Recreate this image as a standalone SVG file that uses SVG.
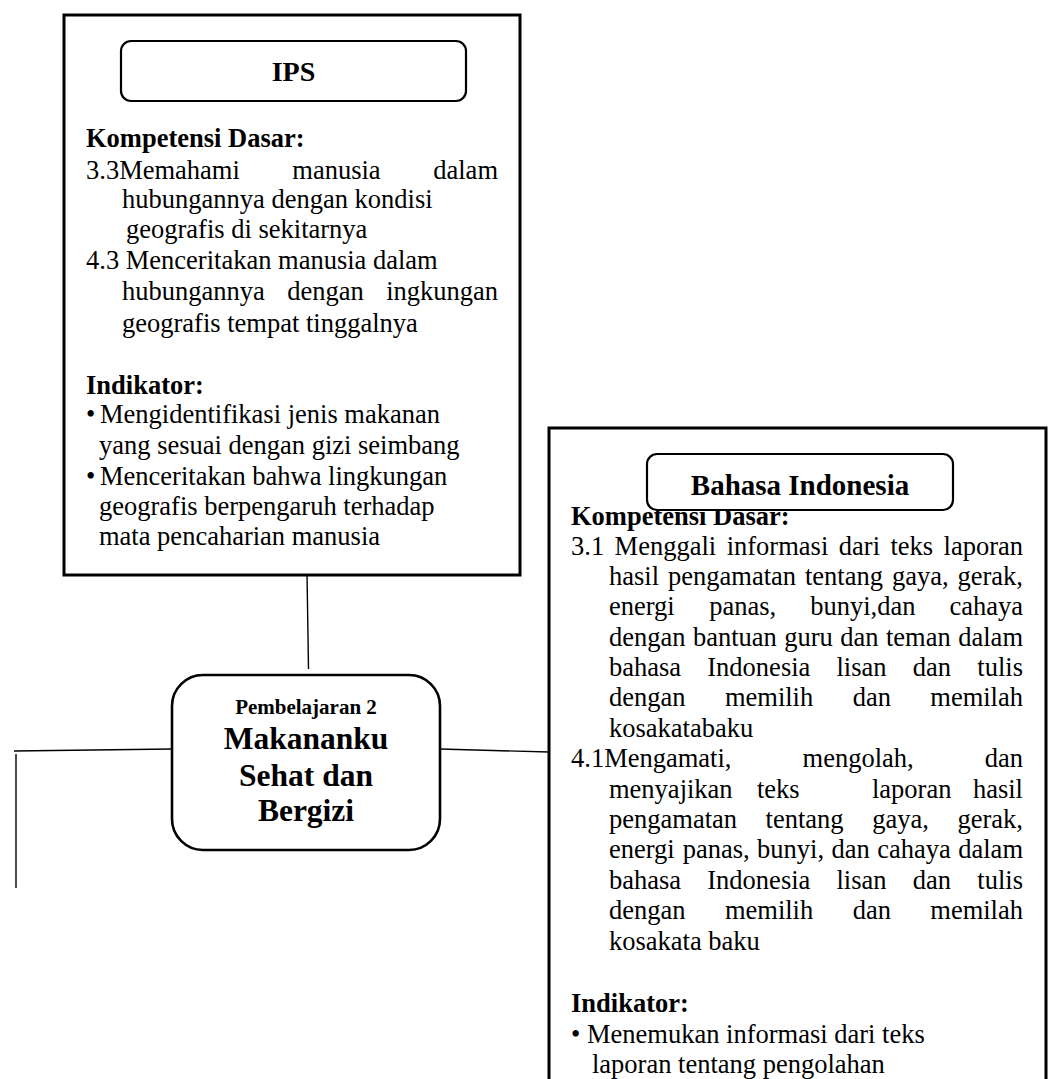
<svg xmlns="http://www.w3.org/2000/svg" width="1053" height="1079" viewBox="0 0 1053 1079">
  <style>
    .t { font-family: "Liberation Serif", "Times New Roman", serif; font-size: 26.5px; fill: #000; }
    .b { font-weight: bold; }
    .c { text-anchor: middle; }
    .frame { fill: #fff; stroke: #000; stroke-width: 3; }
    .tag { fill: #fff; stroke: #000; stroke-width: 2.2; }
    .link { fill: none; stroke: #000; stroke-width: 1.4; }
  </style>
  <rect width="1053" height="1079" fill="#fff"/>

  <!-- connectors between the central topic and the subject boxes -->
  <g id="connectors" class="link">
    <line x1="307" y1="573" x2="308.5" y2="669"/>
    <line x1="440" y1="749" x2="549" y2="752"/>
    <line x1="172" y1="749" x2="14" y2="751"/>
    <line x1="16" y1="754" x2="16" y2="888"/>
  </g>

  <!-- IPS subject box -->
  <g id="ips">
    <rect class="frame" x="64" y="15" width="456" height="560"/>
    <rect class="tag" x="121" y="41" width="345" height="60" rx="10"/>
    <text class="t b c" x="293.5" y="81" style="font-size:28px">IPS</text>
    <text class="t b" x="86" y="147">Kompetensi Dasar:</text>
    <text class="t" y="179"><tspan x="86">3.3Memahami</tspan><tspan x="292.3">manusia</tspan><tspan x="498" text-anchor="end">dalam</tspan></text>
    <text class="t" x="122" y="208">hubungannya dengan kondisi</text>
    <text class="t" x="126" y="238">geografis di sekitarnya</text>
    <text class="t" x="86" y="269">4.3 Menceritakan manusia dalam</text>
    <text class="t" y="300"><tspan x="122">hubungannya</tspan><tspan x="287.2">dengan</tspan><tspan x="498" text-anchor="end">ingkungan</tspan></text>
    <text class="t" x="122" y="332">geografis tempat tinggalnya</text>
    <text class="t b" x="86" y="394">Indikator:</text>
    <text class="t" y="423"><tspan x="86">•</tspan><tspan x="100">Mengidentifikasi jenis makanan</tspan></text>
    <text class="t" x="99" y="454">yang sesuai dengan gizi seimbang</text>
    <text class="t" y="485"><tspan x="86">•</tspan><tspan x="100">Menceritakan bahwa lingkungan</tspan></text>
    <text class="t" x="99" y="515">geografis berpengaruh terhadap</text>
    <text class="t" x="99" y="545">mata pencaharian manusia</text>
  </g>

  <!-- central topic -->
  <g id="topic">
    <rect class="tag" x="172" y="675" width="268" height="175" rx="31" style="stroke-width:2.6"/>
    <text class="t b c" x="306" y="714" style="font-size:21px">Pembelajaran 2</text>
    <text class="t b c" x="306" y="749" style="font-size:31.5px">Makananku</text>
    <text class="t b c" x="306" y="786" style="font-size:31.5px">Sehat dan</text>
    <text class="t b c" x="306" y="821" style="font-size:31.5px">Bergizi</text>
  </g>

  <!-- Bahasa Indonesia subject box -->
  <g id="bahasa-indonesia">
    <rect class="frame" x="549" y="428" width="497" height="700"/>
    <text class="t b" x="571" y="525">Kompetensi Dasar:</text>
    <rect class="tag" x="647" y="454" width="306" height="56" rx="10"/>
    <text class="t b c" x="800" y="495" style="font-size:29px">Bahasa Indonesia</text>
    <text class="t" y="555"><tspan x="571">3.1</tspan><tspan x="614.6">Menggali</tspan><tspan x="726.7">informasi</tspan><tspan x="838.8">dari</tspan><tspan x="890.5">teks</tspan><tspan x="1023" text-anchor="end">laporan</tspan></text>
    <text class="t" y="585"><tspan x="609">hasil</tspan><tspan x="668">pengamatan</tspan><tspan x="805">tentang</tspan><tspan x="891.9">gaya,</tspan><tspan x="1023" text-anchor="end">gerak,</tspan></text>
    <text class="t" y="615"><tspan x="609">energi</tspan><tspan x="709.2">panas,</tspan><tspan x="810.2">bunyi,dan</tspan><tspan x="1023" text-anchor="end">cahaya</tspan></text>
    <text class="t" y="646"><tspan x="609">dengan</tspan><tspan x="692.9">bantuan</tspan><tspan x="784.3">guru</tspan><tspan x="840.3">dan</tspan><tspan x="886">teman</tspan><tspan x="1023" text-anchor="end">dalam</tspan></text>
    <text class="t" y="676"><tspan x="609">bahasa</tspan><tspan x="707.3">Indonesia</tspan><tspan x="836.5">lisan</tspan><tspan x="912.8">dan</tspan><tspan x="1023" text-anchor="end">tulis</tspan></text>
    <text class="t" y="706"><tspan x="609">dengan</tspan><tspan x="724.9">memilih</tspan><tspan x="852.7">dan</tspan><tspan x="1023" text-anchor="end">memilah</tspan></text>
    <text class="t" x="609" y="737">kosakatabaku</text>
    <text class="t" y="767"><tspan x="571">4.1Mengamati,</tspan><tspan x="802.6">mengolah,</tspan><tspan x="1023" text-anchor="end">dan</tspan></text>
    <text class="t" y="798"><tspan x="609">menyajikan</tspan><tspan x="757">teks</tspan><tspan x="872">laporan</tspan><tspan x="1023" text-anchor="end">hasil</tspan></text>
    <text class="t" y="828"><tspan x="609">pengamatan</tspan><tspan x="765.6">tentang</tspan><tspan x="872.2">gaya,</tspan><tspan x="1023" text-anchor="end">gerak,</tspan></text>
    <text class="t" y="858"><tspan x="609">energi</tspan><tspan x="682.7">panas,</tspan><tspan x="757.1">bunyi,</tspan><tspan x="831.5">dan</tspan><tspan x="877.2">cahaya</tspan><tspan x="1023" text-anchor="end">dalam</tspan></text>
    <text class="t" y="889"><tspan x="609">bahasa</tspan><tspan x="707.3">Indonesia</tspan><tspan x="836.5">lisan</tspan><tspan x="912.8">dan</tspan><tspan x="1023" text-anchor="end">tulis</tspan></text>
    <text class="t" y="919"><tspan x="609">dengan</tspan><tspan x="724.9">memilih</tspan><tspan x="852.7">dan</tspan><tspan x="1023" text-anchor="end">memilah</tspan></text>
    <text class="t" x="609" y="950">kosakata baku</text>
    <text class="t b" x="571" y="1012">Indikator:</text>
    <text class="t" y="1043"><tspan x="571">•</tspan><tspan x="587">Menemukan informasi dari teks</tspan></text>
    <text class="t" x="592" y="1073">laporan tentang pengolahan</text>
  </g>
</svg>
